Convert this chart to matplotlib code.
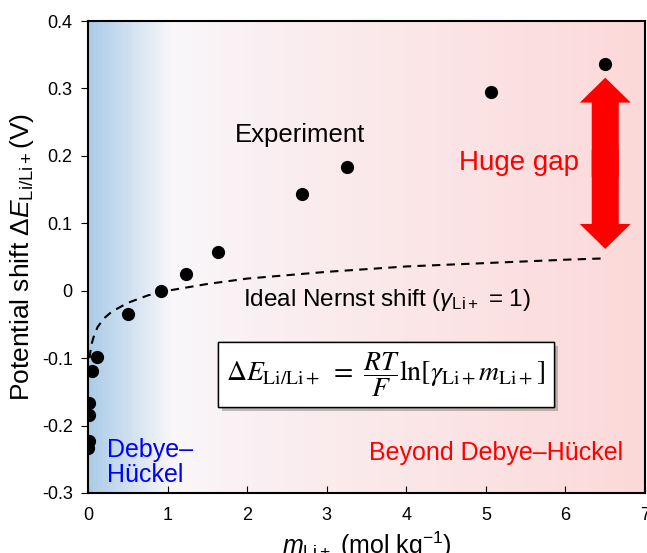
import numpy as np
import matplotlib
matplotlib.use("Agg")
import matplotlib.pyplot as plt
import matplotlib.patheffects as pe
from matplotlib.colors import LinearSegmentedColormap
from matplotlib.patches import FancyArrow

plt.rcParams['font.family'] = ['Liberation Sans', 'DejaVu Sans']
plt.rcParams['mathtext.fontset'] = 'custom'
plt.rcParams['mathtext.it'] = 'Liberation Sans:italic'
plt.rcParams['mathtext.rm'] = 'Liberation Sans'

# experiment points
m_exp = [0.005, 0.008, 0.01, 0.012, 0.05, 0.11, 0.5, 0.92, 1.23, 1.63, 2.69, 3.25, 5.06, 6.5]
dE_exp = [-0.234, -0.223, -0.185, -0.167, -0.119, -0.098, -0.034, 0.000, 0.025, 0.057,
          0.143, 0.183, 0.295, 0.336]

# ideal nernst shift curve
m_nernst = [0.02, 0.03, 0.05, 0.08, 0.12, 0.2, 0.3, 0.5, 0.75, 1.0, 1.5, 2.0, 3.0, 4.0, 5.0, 6.0, 6.5]
dE_nernst = [-0.100, -0.090, -0.077, -0.065, -0.054, -0.041, -0.031, -0.018, -0.007, 0.000,
             0.010, 0.018, 0.028, 0.036, 0.041, 0.046, 0.048]

gap_x = 6.5
gap_lo = 0.062
gap_hi = 0.316

fig = plt.figure(figsize=(6.47, 5.53), dpi=100)
ax = fig.add_axes([0.136, 0.1085, 0.861, 0.8535])

# background gradient blue -> white -> pink
cmap = LinearSegmentedColormap.from_list("bg", [(0.0, (0.67, 0.80, 0.91)),
                                                (0.15, (0.98, 0.97, 0.98)),
                                                (0.30, (0.98, 0.94, 0.95)),
                                                (1.0, (0.99, 0.85, 0.85))])
grad = np.linspace(0, 1, 400).reshape(1, -1)
ax.imshow(grad, cmap=cmap, aspect='auto', extent=[0, 7, -0.3, 0.4], zorder=0)

ax.plot(m_nernst, dE_nernst, color='black', ls=(0, (4, 3)), lw=1.5, zorder=2)
ax.plot(m_exp, dE_exp, 'o', color='black', markersize=8.5, zorder=3)

# double arrow (two halves overlapping in the middle)
mid = (gap_lo + gap_hi) / 2
ax.add_patch(FancyArrow(gap_x, mid - 0.02, 0, gap_hi - mid + 0.02, width=0.34, head_width=0.64,
                        head_length=0.037, length_includes_head=True,
                        color='#ff0000', lw=0, zorder=4))
ax.add_patch(FancyArrow(gap_x, mid + 0.02, 0, gap_lo - mid - 0.02, width=0.34, head_width=0.64,
                        head_length=0.037, length_includes_head=True,
                        color='#ff0000', lw=0, zorder=4))

ax.text(2.66, 0.231, "Experiment", fontsize=18.5, ha='center', va='center')
ax.text(5.41, 0.189, "Huge gap", fontsize=20, color='#ff0000', ha='center', va='center')
ax.text(1.95, -0.014, r"Ideal Nernst shift ($\gamma_{\mathrm{Li+}}$ = 1)", fontsize=17.5,
        ha='left', va='center')
ax.text(0.24, -0.255, "Debye–\nHückel", fontsize=18, color='#0000ff', ha='left',
        va='center', linespacing=1.05)
ax.text(5.13, -0.241, "Beyond Debye–Hückel", fontsize=18, color='#ff0000',
        ha='center', va='center')

t = ax.text(3.74, -0.124,
            r"$\Delta E_{\mathrm{Li/Li+}}\ =\ \dfrac{RT}{F}\ln[\gamma_{\mathrm{Li+}}m_{\mathrm{Li+}}]$",
            fontsize=20, ha='center', va='center', math_fontfamily='stix', zorder=5,
            bbox=dict(boxstyle='square,pad=0.3', fc='white', ec='black', lw=1))
t.get_bbox_patch().set_path_effects([pe.withSimplePatchShadow(offset=(3, -3), shadow_rgbFace='gray', alpha=0.5),
                                     pe.Normal()])

ax.set_xlim(0, 7)
ax.set_ylim(-0.3, 0.4)
ax.set_xticks(range(0, 8))
ax.set_yticks([-0.3, -0.2, -0.1, 0, 0.1, 0.2, 0.3, 0.4])
ax.set_yticklabels(['-0.3', '-0.2', '-0.1', '0', '0.1', '0.2', '0.3', '0.4'])
ax.tick_params(axis='x', direction='in', labelsize=13, length=5, pad=10)
ax.tick_params(axis='y', direction='out', labelsize=13, length=5, pad=6)
for s in ax.spines.values():
    s.set_linewidth(1.5)

ax.set_xlabel(r"$m_{\mathrm{Li+}}$ (mol kg$^{-1}$)", fontsize=18, labelpad=4)
ax.set_ylabel(r"Potential shift $\Delta E_{\mathrm{Li/Li+}}$(V)", fontsize=19, labelpad=4)

fig.savefig("out.png", dpi=100)
